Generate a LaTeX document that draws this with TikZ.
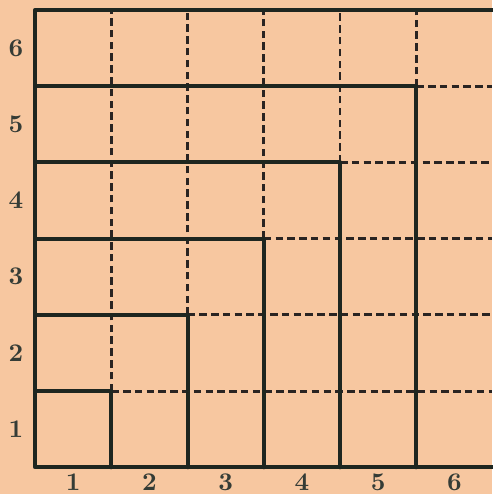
\documentclass[tikz,border=0pt]{standalone}
\usepackage{xcolor}
\usepackage{tikz}
\usetikzlibrary{positioning,backgrounds}
\definecolor{paper}{HTML}{F7C7A0}
\definecolor{ink}{HTML}{1E2620}
\definecolor{inkdash}{HTML}{2A2422}
\tikzset{
  % --- square outlines ---
  sqline/.style={draw=ink, line width=1.5pt, line cap=round, line join=round},
  % --- rest of the grid ---
  gridline/.style={draw=inkdash, line width=1.1pt, dash pattern=on 2.8pt off 1.6pt},
  % --- axis numbers ---
  axisnum/.style={font=\bfseries\fontsize{9.5}{10}\selectfont, text=ink!90, inner sep=0pt},
}
\begin{document}
\begin{tikzpicture}
  % paper
  \fill[paper] (-0.46,-0.35) rectangle (6.0,6.13);
  \useasboundingbox (-0.46,-0.35) rectangle (6.0,6.13);
  % dashed grid beyond each square
  \foreach \k in {1,...,5} {
    \draw[gridline] (\k,\k) -- (6,\k);
    \draw[gridline] (\k,\k) -- (\k,6);
  }
  % nested squares
  \draw[sqline] (6,6) -- (0,6) -- (0,0) -- (6,0);
  \foreach \k in {1,...,5} {
    \draw[sqline] (0,\k) -- (\k,\k) -- (\k,0);
  }
  % numbers
  \foreach \k in {1,...,6} {
    \node[axisnum] (row\k) at (-0.25,\k-0.5) {\k};
    \node[axisnum] (col\k) at (\k-0.5,-0.19) {\k};
  }
\end{tikzpicture}
\end{document}
